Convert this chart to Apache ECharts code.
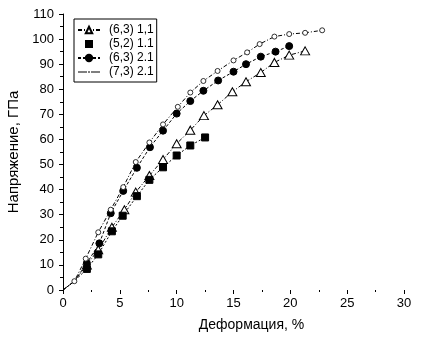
<!DOCTYPE html>
<html><head><meta charset="utf-8">
<script src="https://cdn.jsdelivr.net/npm/echarts@6/dist/echarts.min.js"></script>
<style>html,body{margin:0;padding:0;background:#fff}#c{width:424px;height:343px}</style>
</head><body><div id="c"></div>
<script>
const seriesNames = ['(6,3) 1,1', '(5,2) 1.1', '(6,3) 2.1', '(7,3) 2.1'];
const xTicks = [0, 5, 10, 15, 20, 25, 30];
const yTicks = [0, 10, 20, 30, 40, 50, 60, 70, 80, 90, 100, 110];

const s1x = [0, 1.0, 2.1, 3.1, 4.3, 5.4, 6.4, 7.6, 8.8, 10.0, 11.2, 12.4, 13.6, 14.9, 16.1, 17.4, 18.6, 19.9, 21.3];
const s1y = [0, 3.5, 10.0, 16.0, 25.0, 32.0, 39.0, 45.6, 52.0, 58.3, 63.7, 69.5, 73.8, 79.0, 83.0, 86.7, 90.7, 93.6, 95.3];

const s2x = [0, 1.0, 2.1, 3.1, 4.3, 5.25, 6.5, 7.6, 8.8, 10.0, 11.2, 12.5];
const s2y = [0, 3.5, 8.4, 14.2, 23.4, 29.6, 37.4, 43.9, 48.9, 53.6, 57.6, 60.8];

const s3x = [0, 1.0, 2.1, 3.2, 4.2, 5.3, 6.5, 7.65, 8.8, 10.0, 11.2, 12.35, 13.65, 15.0, 16.1, 17.4, 18.7, 19.9];
const s3y = [0, 3.5, 10.7, 18.6, 30.6, 39.5, 48.7, 56.9, 63.5, 70.3, 75.3, 79.4, 83.5, 87.0, 90.0, 93.0, 95.0, 97.2];

const s4x = [0, 1.0, 2.0, 3.1, 4.2, 5.3, 6.4, 7.6, 8.8, 10.1, 11.2, 12.35, 13.6, 15.0, 16.2, 17.3, 18.6, 19.9, 21.3, 22.8];
const s4y = [0, 3.5, 12.5, 23.0, 32.0, 41.0, 51.0, 58.8, 66.0, 73.0, 78.7, 83.3, 87.3, 91.5, 94.7, 98.0, 101.0, 102.0, 102.5, 103.5];

function pts(xs, ys, hideFirstTwo) {
  return xs.map((x, i) => {
    const item = { value: [x, ys[i]] };
    if (i === 0 || (hideFirstTwo && i === 1)) item.symbol = 'none';
    return item;
  });
}

const font = '"Liberation Sans", Arial, sans-serif';
const chart = echarts.init(document.getElementById('c'), null, { renderer: 'canvas' });
const base = {
  type: 'line', silent: true, animation: false,
  itemStyle: { color: '#000', borderColor: '#000', borderWidth: 1 },
};
chart.setOption({
  animation: false,
  grid: { left: 63, right: 20, top: 14, bottom: 53, containLabel: false, outerBoundsMode: 'none' },
  legend: {
    orient: 'vertical', left: 74, top: 19,
    backgroundColor: '#fff',
    borderColor: '#000', borderWidth: 1, borderRadius: 0,
    padding: [5, 3, 4, 3],
    itemGap: 2, itemWidth: 22, itemHeight: 8,
    textStyle: { color: '#000', fontSize: 12, fontFamily: font, padding: [0, 0, 0, 4] },
    data: [
      { name: seriesNames[0] },
      { name: seriesNames[1], icon: 'path://M0,0H7V7H0Z', itemStyle: { borderWidth: 0 } },
      { name: seriesNames[2] },
      { name: seriesNames[3], itemStyle: { borderWidth: 0, color: '#000' },
        icon: 'path://M0,0H0.01V0.01H0Z M21.99,7.99H22V8H21.99Z M0,3.6H9V4.4H0Z M10,3.6H12V4.4H10Z M13,3.6H22V4.4H13Z' }
    ]
  },
  xAxis: {
    type: 'value', min: 0, max: 30, interval: 5,
    name: 'Деформация, %', nameLocation: 'middle', nameGap: 28,
    nameTextStyle: { color: '#000', fontSize: 14, fontFamily: font, padding: [0, 0, 0, 36] },
    axisLine: { show: false, lineStyle: { color: '#000' } },
    axisTick: { show: true, length: 4, lineStyle: { color: '#000' } },
    minorTick: { show: true, splitNumber: 2, length: 2, lineStyle: { color: '#000' } },
    splitLine: { show: false },
    axisLabel: { color: '#000', fontSize: 13, fontFamily: font, margin: 7,
      formatter: v => xTicks.includes(v) ? String(v) : '' }
  },
  yAxis: {
    type: 'value', min: 0, max: 110, interval: 10,
    name: 'Напряжение, ГПа', nameLocation: 'middle', nameGap: 42, nameRotate: 90,
    nameTextStyle: { color: '#000', fontSize: 15, fontFamily: font },
    axisLine: { show: true, lineStyle: { color: '#000', width: 1 } },
    axisTick: { show: true, length: 4, lineStyle: { color: '#000' } },
    minorTick: { show: true, splitNumber: 2, length: 3, lineStyle: { color: '#000' } },
    splitLine: { show: false },
    axisLabel: { color: '#000', fontSize: 13, fontFamily: font, margin: 9,
      formatter: v => yTicks.includes(v) ? String(v) : '' }
  },
  series: [
    Object.assign({}, base, {
      name: seriesNames[0], data: pts(s1x, s1y, true),
      symbol: 'triangle', symbolSize: [9, 8],
      itemStyle: { color: '#fff', borderColor: '#000', borderWidth: 1 },
      lineStyle: { color: '#000', width: 1, type: [4, 2, 1, 2] }
    }),
    Object.assign({}, base, {
      name: seriesNames[1], data: pts(s2x, s2y, true),
      symbol: 'rect', symbolSize: 7,
      lineStyle: { color: '#000', width: 1, type: [2, 2] }
    }),
    Object.assign({}, base, {
      name: seriesNames[2], data: pts(s3x, s3y, true),
      symbol: 'circle', symbolSize: 7,
      lineStyle: { color: '#000', width: 1, type: [3, 2] }
    }),
    Object.assign({}, base, {
      name: seriesNames[3], data: pts(s4x, s4y, false),
      symbol: 'circle', symbolSize: 5,
      itemStyle: { color: '#fff', borderColor: '#000', borderWidth: 0.8 },
      lineStyle: { color: '#000', width: 1, type: [4, 2, 1, 2] }
    })
  ]
});
</script></body></html>
